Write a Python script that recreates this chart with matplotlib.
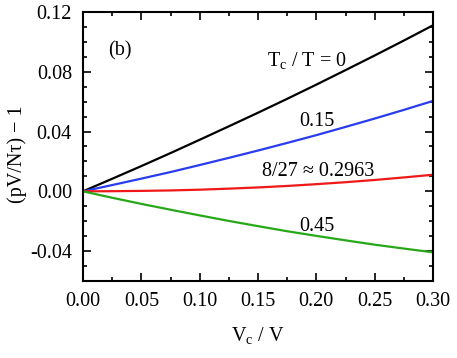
import numpy as np
import matplotlib.pyplot as plt
from matplotlib.ticker import MultipleLocator

plt.rcParams['font.family'] = ['Liberation Serif', 'DejaVu Serif']
plt.rcParams['mathtext.fontset'] = 'custom'
plt.rcParams['mathtext.rm'] = 'Liberation Serif'
plt.rcParams['mathtext.it'] = 'Liberation Serif'

# values
x = [0, 0.025, 0.05, 0.075, 0.1, 0.125, 0.15, 0.175, 0.2, 0.225, 0.25, 0.275, 0.3]
y_t0 = [0, 0.0084, 0.0169, 0.0256, 0.0345, 0.0435, 0.0526, 0.0619, 0.0714, 0.0811, 0.0909, 0.1009, 0.1111]
y_t015 = [0, 0.0042, 0.0085, 0.0129, 0.0176, 0.0224, 0.0273, 0.0324, 0.0376, 0.0431, 0.0487, 0.0545, 0.0605]
y_tc = [0, 0.0001, 0.0003, 0.0006, 0.0011, 0.0018, 0.0026, 0.0036, 0.0048, 0.0061, 0.0076, 0.0093, 0.0111]
y_t045 = [0, -0.0043, -0.0084, -0.0123, -0.0161, -0.0198, -0.0233, -0.0267, -0.0298, -0.0328, -0.0357, -0.0383, -0.0408]

fig = plt.figure(figsize=(4.57, 3.58), dpi=100)
ax = fig.add_axes([83/457, 1-281/358, 350/457, 269/358])

ax.plot(x, y_t0, color='black', lw=1.6)
ax.plot(x, y_t015, color='#2a3cf0', lw=1.6)
ax.plot(x, y_tc, color='#f01818', lw=1.6)
ax.plot(x, y_t045, color='#28a818', lw=1.6)

ax.set_xlim(0, 0.30)
ax.set_ylim(-0.06, 0.12)
ax.xaxis.set_minor_locator(MultipleLocator(0.025))
ax.yaxis.set_minor_locator(MultipleLocator(0.01))
ax.set_xticks([0, 0.05, 0.10, 0.15, 0.20, 0.25, 0.30])
ax.set_xticklabels(['0.00', '0.05', '0.10', '0.15', '0.20', '0.25', '0.30'])
ax.set_yticks([-0.04, 0.00, 0.04, 0.08, 0.12])
ax.set_yticklabels(['-0.04', '0.00', '0.04', '0.08', '0.12'])
ax.tick_params(which='both', direction='in', top=True, right=True, labelsize=14.5, width=1.2)
ax.tick_params(which='major', length=6, pad=8)
ax.tick_params(which='minor', length=3)
for s in ax.spines.values():
    s.set_linewidth(1.5)

ax.set_xlabel('V$_\\mathrm{c}$ / V', fontsize=14.5, labelpad=10)
ax.set_ylabel('(pV/N\u03c4) \u2212 1', fontsize=14.5)
ax.yaxis.set_label_coords(-0.16, 0.472)

ax.text(0.0317, 0.094, '(b)', fontsize=14.5, ha='center', va='center')
ax.text(0.192, 0.084, 'T$_\\mathrm{c}$ / T = 0', fontsize=14.5, ha='center', va='baseline')
ax.text(0.2006, 0.044, '0.15', fontsize=14.5, ha='center', va='baseline')
ax.text(0.2014, 0.010, '8/27 \u2248 0.2963', fontsize=14.5, ha='center', va='baseline')
ax.text(0.2006, -0.0267, '0.45', fontsize=14.5, ha='center', va='baseline')

fig.savefig('out.png', dpi=100)
